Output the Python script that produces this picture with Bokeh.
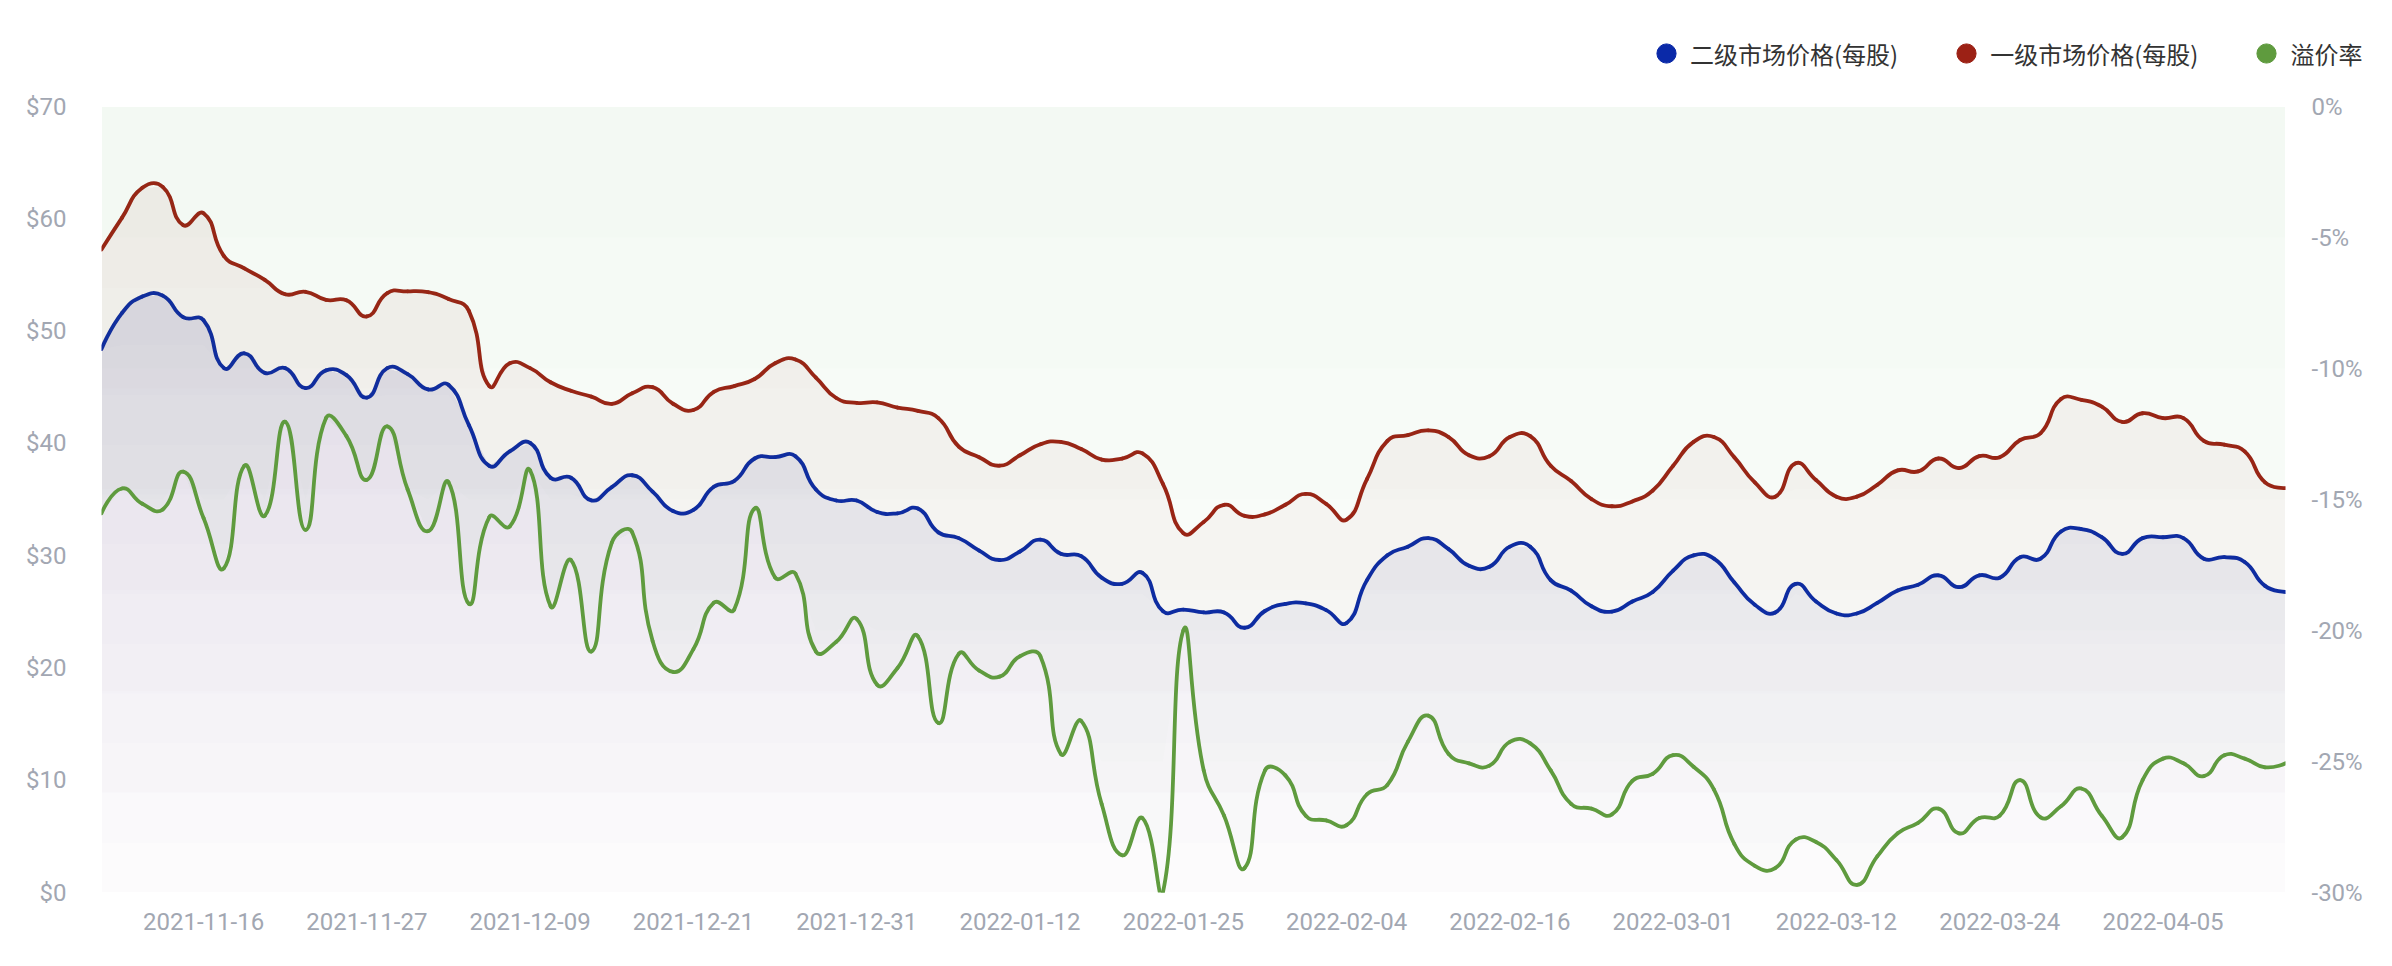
import math
import datetime as dt
from bokeh.plotting import figure
from bokeh.layouts import column
from bokeh.models import Range1d, LinearAxis, FixedTicker, Legend, LegendItem
from bokeh.embed import file_html
from bokeh.resources import INLINE

# ---------------- data ----------------
tick_dates = ["2021-11-16", "2021-11-27", "2021-12-09", "2021-12-21", "2021-12-31",
              "2022-01-12", "2022-01-25", "2022-02-04", "2022-02-16", "2022-03-01",
              "2022-03-12", "2022-03-24", "2022-04-05"]

# 二级市场价格(每股)  secondary market price per share ($)
secondary = [48.40, 51.60, 53.08, 53.16, 51.24, 50.96, 46.70, 48.02, 46.28, 46.70,
             44.92, 46.50, 46.08, 44.08, 46.70, 46.16, 44.80, 45.22, 41.62, 38.00,
             39.28, 40.04, 36.94, 36.94, 34.92, 36.10, 37.16, 35.70, 33.98, 34.07,
             36.14, 36.65, 38.65, 38.77, 38.86, 35.89, 34.91, 34.91, 33.89, 33.77,
             34.19, 32.07, 31.56, 30.45, 29.61, 30.37, 31.43, 30.16, 29.95, 28.04,
             27.49, 28.46, 25.06, 25.20, 24.94, 24.94, 23.58, 25.07, 25.70, 25.75,
             25.15, 24.00, 27.82, 30.03, 30.80, 31.56, 30.58, 29.10, 29.01, 30.80,
             30.80, 27.82, 26.89, 25.49, 25.02, 25.92, 26.76, 28.67, 30.03, 29.73,
             27.60, 25.62, 24.94, 27.48, 25.92, 24.85, 24.85, 25.79, 26.89, 27.40,
             28.25, 27.19, 28.25, 28.04, 29.86, 29.73, 32.15, 32.37, 31.64, 30.16,
             31.56, 31.64, 31.56, 29.73, 29.86, 29.44, 27.31, 26.76]

# 一级市场价格(每股)  primary market price per share ($)
primary = [57.26, 60.08, 62.76, 62.84, 59.44, 60.50, 56.68, 55.58, 54.56, 53.28,
           53.50, 52.78, 52.74, 51.30, 53.38, 53.54, 53.46, 52.86, 51.80, 45.10,
           47.14, 46.70, 45.44, 44.68, 44.16, 43.52, 44.46, 45.00, 43.53, 42.97,
           44.59, 45.10, 45.73, 47.13, 47.47, 45.86, 44.04, 43.61, 43.65, 43.19,
           42.89, 42.25, 39.71, 38.77, 38.01, 38.94, 39.92, 40.13, 39.50, 38.56,
           38.65, 39.10, 36.40, 32.00, 33.00, 34.53, 33.55, 33.68, 34.53, 35.50,
           34.61, 33.21, 36.82, 40.22, 40.73, 41.15, 40.56, 38.94, 38.86, 40.56,
           40.64, 38.01, 36.65, 35.04, 34.40, 34.83, 35.80, 38.01, 40.13, 40.56,
           38.75, 36.52, 35.25, 38.22, 36.74, 35.25, 35.25, 36.31, 37.59, 37.50,
           38.65, 37.80, 38.86, 38.77, 40.30, 40.90, 43.95, 43.87, 43.27, 41.91,
           42.68, 42.25, 42.25, 40.22, 39.88, 39.28, 36.52, 36.02]

# 溢价率  premium (%)
premium = [-15.53, -14.58, -15.16, -15.38, -13.94, -15.71, -17.62, -13.71, -15.62, -12.03,
           -16.16, -11.89, -12.58, -14.25, -12.21, -14.62, -16.21, -14.34, -18.98, -15.67,
           -16.03, -13.89, -19.07, -17.31, -20.80, -16.65, -16.25, -20.40, -21.58, -20.71,
           -18.94, -19.20, -15.34, -17.98, -17.83, -20.80, -20.43, -19.56, -22.07, -21.43,
           -20.22, -23.53, -20.89, -21.53, -21.76, -20.98, -20.98, -24.71, -23.45, -26.62,
           -28.58, -27.16, -30.00, -20.00, -25.34, -27.07, -29.07, -25.34, -25.53, -27.07,
           -27.25, -27.43, -26.25, -25.89, -24.25, -23.25, -24.71, -25.07, -25.16, -24.25,
           -24.31, -25.34, -26.62, -26.80, -27.02, -25.74, -25.47, -24.76, -25.20, -26.07,
           -28.15, -28.98, -29.07, -27.98, -28.07, -28.76, -29.71, -28.62, -27.74, -27.34,
           -26.80, -27.74, -27.16, -27.07, -25.71, -27.13, -26.71, -26.03, -27.07, -27.89,
           -25.71, -24.89, -25.07, -25.56, -24.76, -24.89, -25.22, -25.07]

left_ticks = [0, 10, 20, 30, 40, 50, 60, 70]
right_ticks = [-30, -25, -20, -15, -10, -5, 0]

series_names = ["二级市场价格(每股)", "一级市场价格(每股)", "溢价率"]
colors = ["#0a29a8", "#9c2115", "#5f9b3e"]

# ---------------- categories (dates) ----------------
N = len(secondary)
per_label = 8
first_idx = 5
td = [dt.date.fromisoformat(s) for s in tick_dates]
dates = []
for k in range(first_idx, 0, -1):
    dates.append(td[0] - dt.timedelta(days=round(k * 1.45)))
for j in range(len(td) - 1):
    span = (td[j + 1] - td[j]).days
    for s in range(per_label):
        dates.append(td[j] + dt.timedelta(days=round(s * span / per_label)))
k = 0
while len(dates) < N:
    dates.append(td[-1] + dt.timedelta(days=round(k * 1.45)))
    k += 1
dates = [d.isoformat() for d in dates[:N]]
xs = list(range(N))
tick_pos = [dates.index(s) for s in tick_dates]

# ---------------- geometry ----------------
W, H = 2376, 950
LEG_H = 90                                  # header strip holding the legend
PLOT_TOP, PLOT_BOTTOM, PLOT_LEFT, PLOT_RIGHT = 106, 892, 101, 2285
MH = H - LEG_H
FT = PLOT_TOP - LEG_H
FL, FR, FB = PLOT_LEFT, W - PLOT_RIGHT, H - PLOT_BOTTOM
frame_w = W - FL - FR
frame_h = MH - FT - FB
px_x = frame_w / (N - 1)
px_left = frame_h / 70.0
px_right = frame_h / 30.0

# ---------------- main chart ----------------
p = figure(width=W, height=MH, output_backend="svg", toolbar_location=None,
           x_range=Range1d(0, N - 1), y_range=Range1d(0, 70),
           min_border_left=FL, min_border_right=FR, min_border_top=FT, min_border_bottom=FB)
p.extra_y_ranges = {"pct": Range1d(-30, 0)}
p.outline_line_color = None
p.background_fill_color = "white"
p.border_fill_color = "white"
p.xgrid.visible = False
p.ygrid.visible = False

tick_font = "Roboto"
tick_color = "#a2a7b2"

def style_axis(ax, standoff):
    ax.axis_line_color = None
    ax.major_tick_line_color = None
    ax.minor_tick_line_color = None
    ax.major_tick_out = 0
    ax.major_tick_in = 0
    ax.minor_tick_out = 0
    ax.major_label_standoff = standoff
    ax.major_label_text_font = tick_font
    ax.major_label_text_font_size = "24px"
    ax.major_label_text_color = tick_color

yl = p.yaxis[0]
yl.ticker = FixedTicker(ticks=left_ticks)
yl.major_label_overrides = {v: f"${v}" for v in left_ticks}
style_axis(yl, 35)

yr = LinearAxis(y_range_name="pct")
yr.ticker = FixedTicker(ticks=right_ticks)
yr.major_label_overrides = {v: f"{v}%" for v in right_ticks}
style_axis(yr, 26)
p.add_layout(yr, "right")

xa = p.xaxis[0]
xa.ticker = FixedTicker(ticks=tick_pos)
xa.major_label_overrides = {i: d for i, d in zip(tick_pos, tick_dates)}
style_axis(xa, 20)

def smooth_bezier(vals, sy, smooth=0.5):
    """echarts-style smoothing control points, computed in pixel space."""
    px = [i * px_x for i in range(len(vals))]
    py = [v * sy for v in vals]
    n = len(px)
    cin = [(px[i], py[i]) for i in range(n)]
    cout = [(px[i], py[i]) for i in range(n)]
    for i in range(1, n - 1):
        vx = px[i + 1] - px[i - 1]
        vy = py[i + 1] - py[i - 1]
        l0 = math.hypot(px[i] - px[i - 1], py[i] - py[i - 1])
        l1 = math.hypot(px[i + 1] - px[i], py[i + 1] - py[i])
        r = l1 / (l0 + l1) if (l0 + l1) > 0 else 0.5
        cout[i] = (px[i] + vx * smooth * r, py[i] + vy * smooth * r)
        cin[i] = (px[i] - vx * smooth * (1 - r), py[i] - vy * smooth * (1 - r))
    d = dict(x0=[], y0=[], x1=[], y1=[], cx0=[], cy0=[], cx1=[], cy1=[])
    for i in range(n - 1):
        d["x0"].append(i); d["y0"].append(vals[i])
        d["x1"].append(i + 1); d["y1"].append(vals[i + 1])
        d["cx0"].append(cout[i][0] / px_x); d["cy0"].append(cout[i][1] / sy)
        d["cx1"].append(cin[i + 1][0] / px_x); d["cy1"].append(cin[i + 1][1] / sy)
    return d

# vertical gradient fills approximated by stacked translucent layers (alpha 0.01 each)
def gradient_down(vals, color, n, **kw):
    top = max(vals)
    for k in range(n):
        lev = top * k / n
        p.varea(x=xs, y1=[min(lev, v) for v in vals], y2=vals,
                fill_color=color, fill_alpha=0.01, **kw)

def gradient_up(vals, color, n, top, bottom, **kw):
    for k in range(n):
        lev = bottom + (top - bottom) * k / n
        p.varea(x=xs, y1=[max(lev, v) for v in vals], y2=[top] * len(vals),
                fill_color=color, fill_alpha=0.01, **kw)

LW = 3.8
gradient_down(secondary, "#4a55b0", 12)
p.bezier(**smooth_bezier(secondary, px_left), line_color=colors[0],
         line_width=LW, line_cap="round")
gradient_down(primary, "#b06048", 7)
p.bezier(**smooth_bezier(primary, px_left), line_color=colors[1],
         line_width=LW, line_cap="round")
gradient_up(premium, "#7f9a78", 6, 0, -30, y_range_name="pct")
p.bezier(**smooth_bezier(premium, px_right), line_color=colors[2],
         line_width=LW, line_cap="round", y_range_name="pct")

# ---------------- legend strip above the chart ----------------
lg = figure(width=W, height=LEG_H, output_backend="svg", toolbar_location=None,
            x_range=Range1d(0, N - 1), y_range=Range1d(0, 70),
            x_axis_location=None, y_axis_location=None,
            min_border_left=0, min_border_right=0, min_border_top=0, min_border_bottom=0)
lg.outline_line_color = None
lg.background_fill_color = "white"
lg.border_fill_color = "white"
lg.xgrid.visible = False
lg.ygrid.visible = False

leg_x = 1642
try:
    lg.frame_align = False
    p.frame_align = False
except AttributeError:
    leg_x = 1642 - FL

dots = [lg.scatter(x=xs, y=vals, marker="circle", size=0, fill_color=c, line_color=c)
        for vals, c in zip([secondary, primary, premium], colors)]
legend = Legend(items=[LegendItem(label=n_, renderers=[r]) for n_, r in zip(series_names, dots)],
                orientation="horizontal", location=(leg_x, LEG_H - 77),
                glyph_width=48, glyph_height=48, label_standoff=0, spacing=44,
                padding=0, margin=0, border_line_alpha=0, background_fill_alpha=0,
                label_text_font="Noto Sans CJK SC", label_text_font_size="24px",
                label_text_color="#333333")
lg.add_layout(legend, "center")

layout = column(lg, p, spacing=0)
open("out.html", "w").write(file_html(layout, INLINE))
